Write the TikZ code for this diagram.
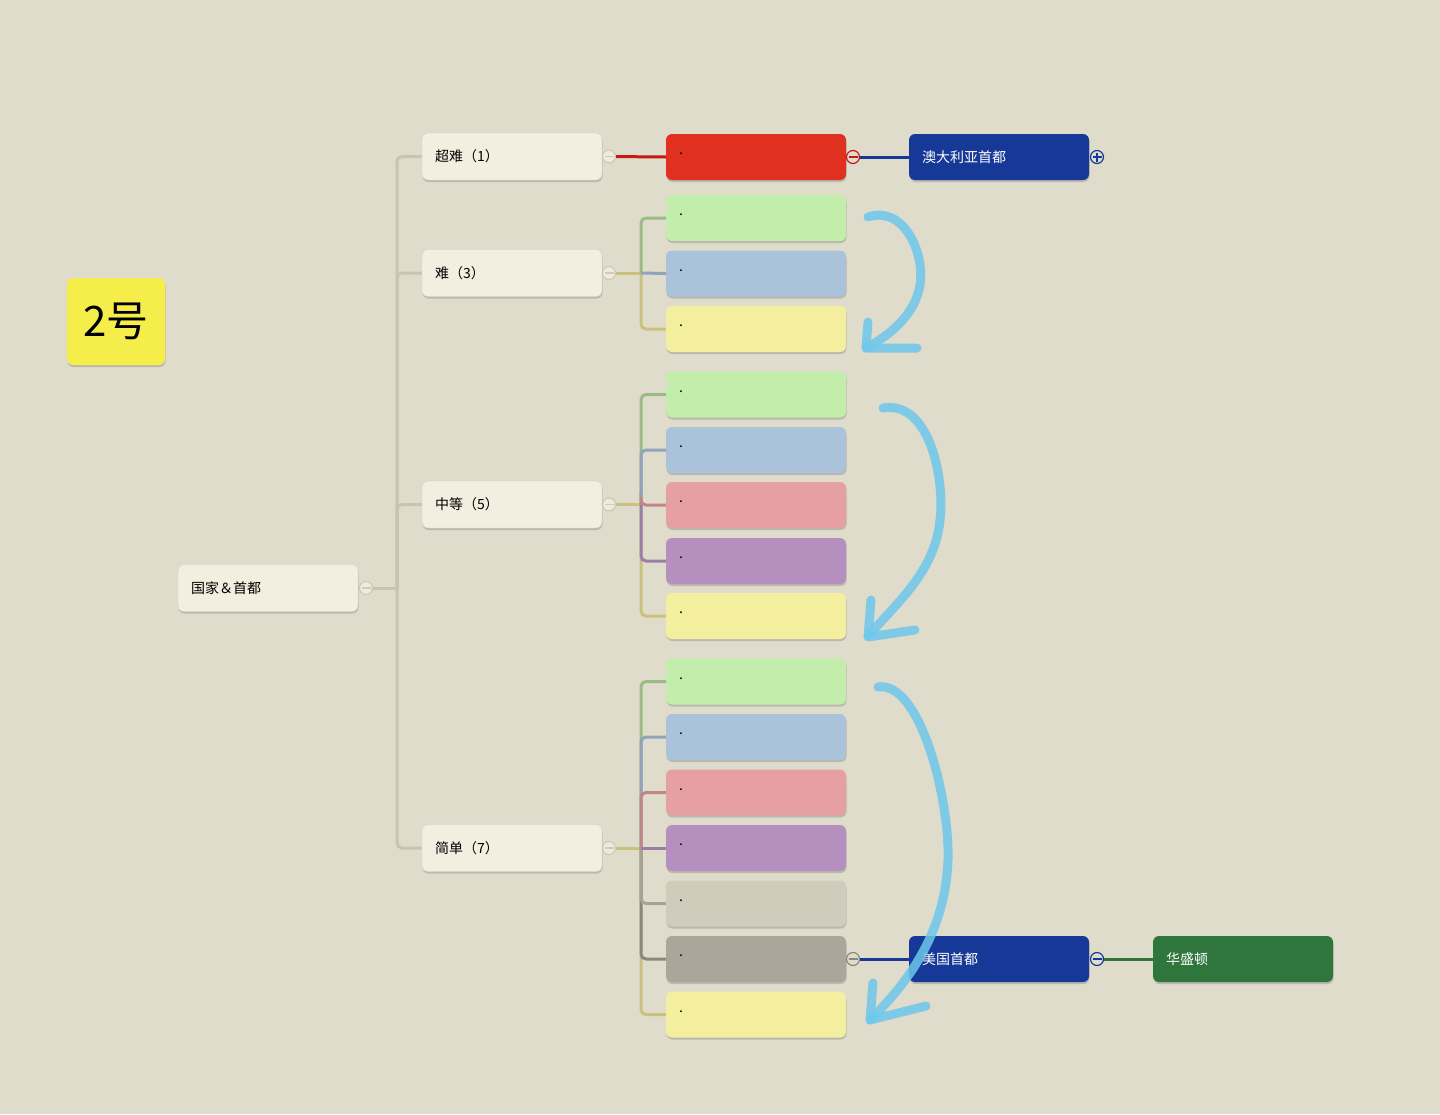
\documentclass[tikz,border=0pt]{standalone}
\usepackage{fontspec}
\setmainfont{Noto Sans CJK SC}
\usetikzlibrary{shadows}

\definecolor{paper}{HTML}{E0DCCC}
\definecolor{cream}{HTML}{F3EEDF}
\definecolor{creamline}{HTML}{D6CFBE}
\definecolor{trunk}{HTML}{C9C3B3}
\definecolor{sticky}{HTML}{F5EE4A}
\definecolor{hot}{HTML}{E03020}
\definecolor{darkhot}{HTML}{C41A12}
\definecolor{navy}{HTML}{163896}
\definecolor{forest}{HTML}{2F763C}
\definecolor{lgreen}{HTML}{C3EDAA}
\definecolor{lblue}{HTML}{AAC3DA}
\definecolor{lyellow}{HTML}{F4EE9F}
\definecolor{lpink}{HTML}{E6A0A3}
\definecolor{lpurple}{HTML}{B590BF}
\definecolor{lgray}{HTML}{D0CCBC}
\definecolor{dgray}{HTML}{AAA69A}
\definecolor{cgreen}{HTML}{9CBB84}
\definecolor{cblue}{HTML}{8EA3BE}
\definecolor{cyellow}{HTML}{C9C27C}
\definecolor{cpink}{HTML}{C38389}
\definecolor{cpurple}{HTML}{9C7DA3}
\definecolor{clgray}{HTML}{A7A296}
\definecolor{cdgray}{HTML}{8B877D}
\definecolor{sky}{HTML}{6EC8EB}

\begin{document}
\begin{tikzpicture}[x=1pt, y=-1pt,
  box/.style={rounded corners=6, text width=154, inner xsep=13, align=left,
    minimum height=46, font=\fontsize{14}{16}\selectfont,
    drop shadow={shadow xshift=0.5pt, shadow yshift=-2pt, opacity=0.3, fill=black!60}},
  topic/.style={box, fill=cream, draw=creamline, minimum height=47},
  leaf/.style={box, fill=#1},
  deep/.style={box, fill=#1, text=white},
  minusmark/.style={circle, draw=#1, fill=paper, line width=1.2, minimum size=13, inner sep=0,
    path picture={\draw[#1, line width=1.2] ([xshift=-4.5pt]path picture bounding box.center) -- ([xshift=4.5pt]path picture bounding box.center);}},
  plusmark/.style={circle, draw=#1, fill=paper, line width=1.2, minimum size=13, inner sep=0,
    path picture={\draw[#1, line width=1.2] ([xshift=-4.5pt]path picture bounding box.center) -- ([xshift=4.5pt]path picture bounding box.center)
      ([yshift=-4.5pt]path picture bounding box.center) -- ([yshift=4.5pt]path picture bounding box.center);}},
  link/.style={line width=3, rounded corners=5},
  hand/.style={draw=sky, line width=9, line cap=round, line join=round, opacity=0.85}]

\fill[paper] (0,0) rectangle (1440,1114);
\useasboundingbox (0,0) rectangle (1440,1114);

% sticky label
\node at (116, 321.5) (N) [fill=sticky, rounded corners=6, minimum width=98, minimum height=87,
  font=\fontsize{42}{44}\selectfont,
  drop shadow={shadow xshift=0.5pt, shadow yshift=-2pt, opacity=0.3, fill=black!60}] {2号};

% root and main topics
\node at (268, 588) (R) [topic] {国家＆首都};
\node at (512, 156.5) (A) [topic] {超难（1）};
\node at (512, 273) (B) [topic] {难（3）};
\node at (512, 504.5) (C) [topic] {中等（5）};
\node at (512, 848) (D) [topic] {简单（7）};

% leaves
\node at (756, 157) (A1) [leaf=hot] {\raisebox{6pt}{.}};
\node at (756, 218) (B1) [leaf=lgreen] {\raisebox{6pt}{.}};
\node at (756, 273.5) (B2) [leaf=lblue] {\raisebox{6pt}{.}};
\node at (756, 329) (B3) [leaf=lyellow] {\raisebox{6pt}{.}};
\node at (756, 394.5) (C1) [leaf=lgreen] {\raisebox{6pt}{.}};
\node at (756, 450) (C2) [leaf=lblue] {\raisebox{6pt}{.}};
\node at (756, 505) (C3) [leaf=lpink] {\raisebox{6pt}{.}};
\node at (756, 561) (C4) [leaf=lpurple] {\raisebox{6pt}{.}};
\node at (756, 616) (C5) [leaf=lyellow] {\raisebox{6pt}{.}};
\node at (756, 681.5) (D1) [leaf=lgreen] {\raisebox{6pt}{.}};
\node at (756, 737) (D2) [leaf=lblue] {\raisebox{6pt}{.}};
\node at (756, 792.5) (D3) [leaf=lpink] {\raisebox{6pt}{.}};
\node at (756, 848) (D4) [leaf=lpurple] {\raisebox{6pt}{.}};
\node at (756, 903.5) (D5) [leaf=lgray] {\raisebox{6pt}{.}};
\node at (756, 959) (D6) [leaf=dgray] {\raisebox{6pt}{.}};
\node at (756, 1014.5) (D7) [leaf=lyellow] {\raisebox{6pt}{.}};

% capitals
\node at (999, 157) (E) [deep=navy] {澳大利亚首都};
\node at (999, 959) (F) [deep=navy] {美国首都};
\node at (1243, 959) (G) [deep=forest] {华盛顿};

% fold markers
\node at (366, 588) (mR) [minusmark=trunk, fill=cream, opacity=0.8] {};
\node at (609, 156.5) (mA) [minusmark=trunk, fill=cream, opacity=0.8] {};
\node at (609, 273) (mB) [minusmark=trunk, fill=cream, opacity=0.8] {};
\node at (609, 504.5) (mC) [minusmark=trunk, fill=cream, opacity=0.8] {};
\node at (609, 848) (mD) [minusmark=trunk, fill=cream, opacity=0.8] {};
\node at (853, 157) (mA1) [minusmark=darkhot] {};
\node at (853, 959) (mD6) [minusmark=cdgray] {};
\node at (1097, 157) (mE) [plusmark=navy] {};
\node at (1097, 959) (mF) [minusmark=navy] {};

% junctions
\coordinate (jR) at (397, 588);
\coordinate (jB) at (641, 273);
\coordinate (jC) at (641, 504.5);
\coordinate (jD) at (641, 848);

% trunk
\draw[link, trunk] (mR) -- (jR);
\draw[link, trunk] (jR) |- (A.west);
\draw[link, trunk] (jR) |- (B.west);
\draw[link, trunk] (jR) |- (C.west);
\draw[link, trunk] (jR) |- (D.west);

% branches
\draw[link, darkhot] (mA) -- (A1.west);
\draw[link, cyellow] (mB) -- (jB);
\draw[link, cgreen] (jB) |- (B1.west);
\draw[link, cyellow] (jB) |- (B3.west);
\draw[link, cblue] (jB) -- (B2.west);
\draw[link, cyellow] (mC) -- (jC);
\draw[link, cgreen] (jC) |- (C1.west);
\draw[link, cblue] (jC) |- (C2.west);
\draw[link, cpink] (jC) |- (C3.west);
\draw[link, cyellow] (jC) |- (C5.west);
\draw[link, cpurple] (jC) |- (C4.west);
\draw[link, cyellow] (mD) -- (jD);
\draw[link, cgreen] (jD) |- (D1.west);
\draw[link, cblue] (jD) |- (D2.west);
\draw[link, cpink] (jD) |- (D3.west);
\draw[link, cyellow] (jD) |- (D7.west);
\draw[link, cdgray] (jD) |- (D6.west);
\draw[link, clgray] (jD) |- (D5.west);
\draw[link, cpurple] (jD) -- (D4.west);
\draw[link, navy] (mA1) -- (E.west);
\draw[link, navy] (mD6) -- (F.west);
\draw[link, forest] (mF) -- (G.west);

% hand drawn arrows
\draw[hand] (868,217) .. controls (905,205) and (925,255) .. (920,285) .. controls (915,315) and (890,335) .. (866,348);
\draw[hand] (868,322) -- (866,348) -- (917,348);
\draw[hand] (883,408) .. controls (930,400) and (945,480) .. (940,520) .. controls (935,570) and (900,600) .. (868,636);
\draw[hand] (871,600) -- (868,637) -- (915,630);
\draw[hand] (878,687) .. controls (920,680) and (950,800) .. (948,860) .. controls (945,940) and (900,990) .. (870,1020);
\draw[hand] (873,983) -- (870,1020) -- (926,1006);
\end{tikzpicture}
\end{document}
